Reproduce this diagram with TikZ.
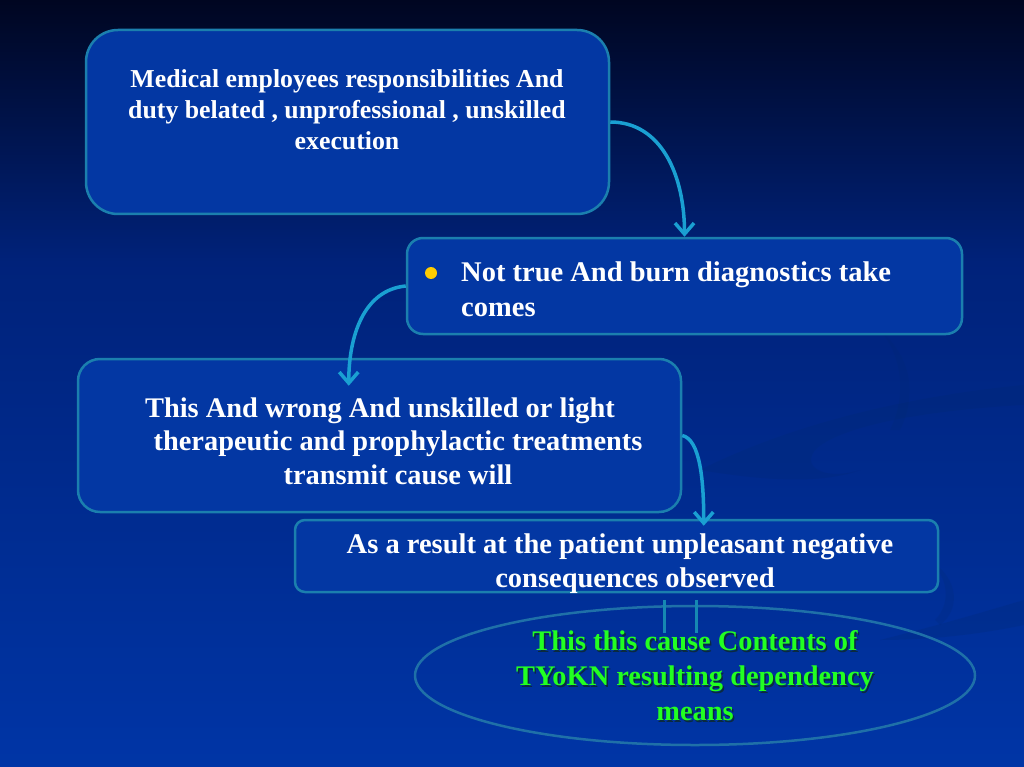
\documentclass[tikz,border=0pt]{standalone}
\usepackage{fontspec}
\setmainfont{Liberation Serif}
\usetikzlibrary{arrows.meta,shapes.geometric,calc}
\definecolor{bgtop}{HTML}{000621}
\definecolor{bgmid}{HTML}{00227A}
\definecolor{bgbot}{HTML}{0035A6}
\definecolor{boxfill}{HTML}{0337A3}
\definecolor{bordc}{HTML}{1B7FAE}
\definecolor{ellc}{HTML}{1F70A8}
\definecolor{arrc}{HTML}{1AA0D2}
\definecolor{greentxt}{HTML}{22FF22}
\definecolor{shadowc}{HTML}{0A2A40}
\definecolor{bullc}{HTML}{FFCC00}
\definecolor{swoosh}{HTML}{00296F}
\begin{document}
\begin{tikzpicture}[x=1pt,y=-1pt,
  box/.style={draw=bordc, line width=2.5pt, fill=boxfill, rounded corners=#1, inner sep=0pt},
  wtxt/.style={text=white, font=\bfseries\fontsize{#1}{#1}\selectfont, inner sep=0pt},
  arr/.style={draw=arrc, line width=3.5pt, -{Straight Barb[length=11pt,width=19pt]}},
  link/.style={draw=arrc!85!black, line width=3pt},
]
\useasboundingbox (0,0) rectangle (1024,767);
% background
\fill[top color=bgtop, bottom color=bgmid] (0,0) rectangle (1024,262);
\fill[top color=bgmid, bottom color=bgbot] (0,261) rectangle (1024,767);
% faint swooshes
\fill[swoosh, opacity=0.22] (700,470) .. controls (800,420) and (920,395) .. (1024,385)
  -- (1024,405) .. controls (930,410) and (840,425) .. (815,450)
  .. controls (800,470) and (830,480) .. (860,470)
  .. controls (820,485) and (760,480) .. (700,470) -- cycle;
\fill[swoosh, opacity=0.18] (880,330) .. controls (915,360) and (915,400) .. (900,430)
  -- (890,430) .. controls (905,400) and (905,360) .. (880,330) -- cycle;
\fill[swoosh, opacity=0.22] (880,640) .. controls (940,625) and (990,610) .. (1024,600)
  -- (1024,625) .. controls (990,632) and (940,640) .. (880,640) -- cycle;
\fill[swoosh, opacity=0.18] (930,560) .. controls (960,580) and (960,610) .. (940,625)
  -- (935,620) .. controls (950,605) and (950,580) .. (930,560) -- cycle;

% boxes
\node[box=32, minimum width=523pt, minimum height=184pt] (b1) at (347.5,122) {};
\node[box=16, minimum width=555pt, minimum height=96pt] (b2) at (684.5,286) {};
\node[box=22, minimum width=603pt, minimum height=153pt] (b3) at (379.5,435.5) {};
\node[box=10, minimum width=643pt, minimum height=72pt] (b4) at (616.5,556) {};
\node[ellipse, draw=ellc, line width=2.5pt, minimum width=560pt, minimum height=139pt, inner sep=0pt] (e1) at (695,675.5) {};

% texts
\node[wtxt=25.8, align=center, font=\bfseries\fontsize{25.8}{31}\selectfont] (t1) at (347,110)
  {Medical employees responsibilities And\\ duty belated , unprofessional , unskilled\\ execution};
\node[circle, fill=bullc, inner sep=0pt, minimum size=12pt] (bul) at (431,273) {};
\node[wtxt=28.5, align=left, anchor=west, font=\bfseries\fontsize{28.5}{35}\selectfont] (t2) at (461,289)
  {Not true And burn diagnostics take\\ comes};
\node[wtxt=28.4, align=center, font=\bfseries\fontsize{28.4}{33.5}\selectfont] (t3) at (398,441)
  {This And wrong And unskilled or light\hspace*{36pt}\\ therapeutic and prophylactic treatments\\ transmit cause will};
\node[wtxt=28.5, align=center, font=\bfseries\fontsize{28.5}{34}\selectfont] (t4) at (635,564)
  {As a result at the patient unpleasant negative\hspace*{30pt}\\ consequences observed};
\node[text=shadowc, align=center, inner sep=0pt, font=\bfseries\fontsize{28.4}{35}\selectfont] (t5s) at (696.5,677.5)
  {This this cause Contents of\\ TYoKN resulting dependency\\ means};
\node[text=greentxt, align=center, inner sep=0pt, font=\bfseries\fontsize{28.4}{35}\selectfont] (t5) at (695,676)
  {This this cause Contents of\\ TYoKN resulting dependency\\ means};

% connectors
\coordinate (c2) at ($(b3.north west)+(272,28)$);
\coordinate (c3) at ($(b4.north west)+(410,7)$);
\draw[arr] (b1.east) .. controls +(52,0) and +(0,-60) .. (b2.north);
\draw[arr] (b2.west) .. controls +(-42,4) and +(0,-50) .. (c2);
\draw[arr] (b3.east) .. controls +(18,4) and +(0,-45) .. (c3);

\coordinate (l1a) at ($(b4.south)+(47.5,7)$);
\coordinate (l1b) at ($(b4.south)+(47.5,40)$);
\coordinate (l2a) at ($(b4.south)+(79.5,7)$);
\coordinate (l2b) at ($(b4.south)+(79.5,40)$);
\draw[link] (l1a) -- (l1b);
\draw[link] (l2a) -- (l2b);
\end{tikzpicture}
\end{document}
